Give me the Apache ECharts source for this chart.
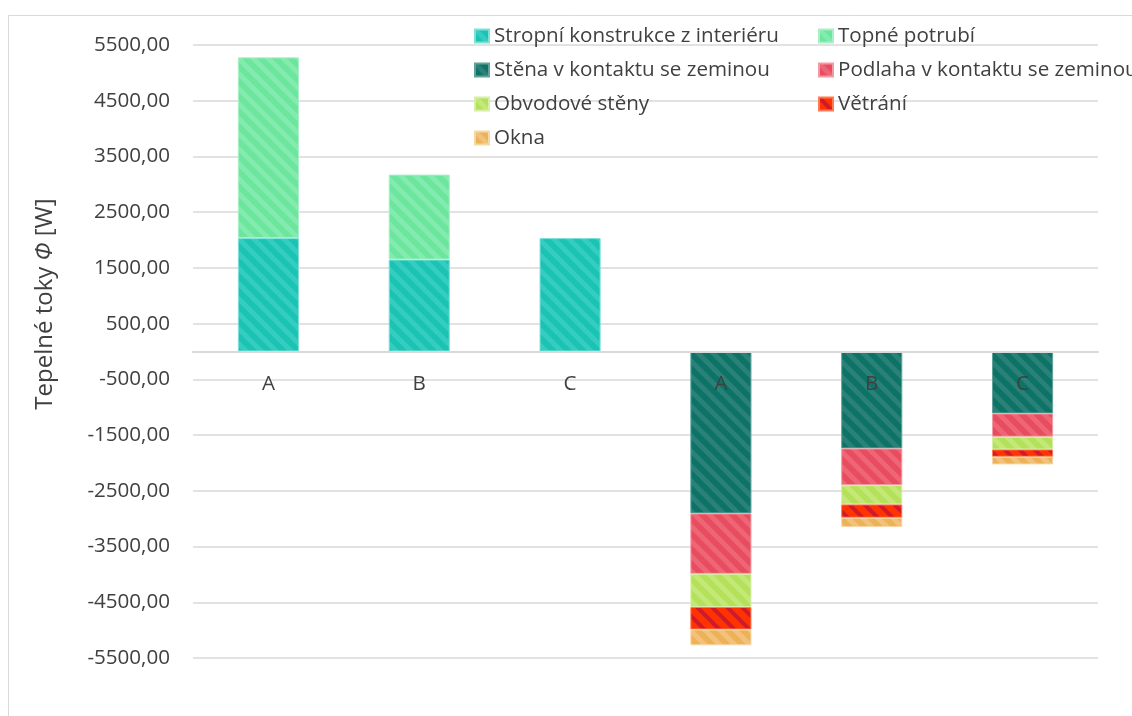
<!DOCTYPE html>
<html>
<head>
<meta charset="utf-8">
<script src="https://cdn.jsdelivr.net/npm/echarts@6/dist/echarts.min.js"></script>
<style>
  html, body { margin: 0; padding: 0; background: #ffffff; }
  #chart { width: 1132px; height: 716px; }
</style>
</head>
<body>
<div id="chart"></div>
<script>
// Heat flows [W] for three variants: gains (left group) and losses (right group)
const categories = ['A', 'B', 'C', 'A', 'B', 'C'];

const stropniKonstrukce = [2035, 1650, 2035, null, null, null];
const topnePotrubi      = [3243, 1524, null, null, null, null];
const stenaZemina       = [null, null, null, -2905, -1740, -1112];
const podlahaZemina     = [null, null, null, -1085, -658, -418];
const obvodoveSteny     = [null, null, null, -595, -346, -228];
const vetrani           = [null, null, null, -404, -239, -131];
const okna              = [null, null, null, -283, -168, -138];

const seriesNames = [
  'Stropní konstrukce z interiéru',
  'Topné potrubí',
  'Stěna v kontaktu se zeminou',
  'Podlaha v kontaktu se zeminou',
  'Obvodové stěny',
  'Větrání',
  'Okna'
];

const axisMin = -5500;
const axisMax = 5500;
const axisStep = 1000;

const FONT = "'Open Sans', 'DejaVu Sans', sans-serif";
const TEXT = '#404040';
const FS = 20.6;

// plot area box
const gridTop = 45;
const gridBottom = 58;
const plotHeight = 716 - gridTop - gridBottom;
// category axis sits on the zero level
const zeroOffset = -plotHeight * (0 - axisMin) / (axisMax - axisMin);

// Diagonal "\" hatch tile used as a repeating bar fill
function hatch(base, stripe, width) {
  const s = 15;
  const c = document.createElement('canvas');
  c.width = s; c.height = s;
  const g = c.getContext('2d');
  g.fillStyle = base;
  g.fillRect(0, 0, s, s);
  g.strokeStyle = stripe;
  g.lineWidth = width;
  for (const k of [-s, 0, s]) {
    g.beginPath();
    g.moveTo(k - 3, -3);
    g.lineTo(k + s + 3, s + 3);
    g.stroke();
  }
  return { image: c, repeat: 'repeat' };
}

const styles = [
  { fill: hatch('#1BC3B4', '#34CDC0', 5), border: '#7FE0D8' },
  { fill: hatch('#6CE59D', '#84EBB0', 5), border: '#A8F0C6' },
  { fill: hatch('#0D7366', '#2A8178', 5), border: '#5FA39A' },
  { fill: hatch('#E84C5F', '#EE6675', 5), border: '#F29AA4' },
  { fill: hatch('#B3E15A', '#C3E878', 5), border: '#D6EEA6' },
  { fill: hatch('#FF3300', '#CF1A2C', 4), border: '#FF7A55' },
  { fill: hatch('#EDB157', '#F2C27A', 5), border: '#F6D7A6' }
];

const values = [stropniKonstrukce, topnePotrubi, stenaZemina, podlahaZemina, obvodoveSteny, vetrani, okna];

const series = values.map((data, i) => ({
  name: seriesNames[i],
  type: 'bar',
  stack: 'toky',
  barCategoryGap: '59.5%',
  data: data,
  itemStyle: {
    color: styles[i].fill,
    borderColor: styles[i].border,
    borderWidth: 1
  }
}));

const legendText = { fontFamily: FONT, fontSize: FS, color: TEXT, lineHeight: 24 };

const chart = echarts.init(document.getElementById('chart'), null, { renderer: 'canvas' });

chart.setOption({
  animation: false,
  backgroundColor: '#ffffff',
  grid: { left: 193, right: 34, top: gridTop, bottom: gridBottom, containLabel: false },
  legend: [
    {
      orient: 'vertical',
      left: 469, top: 19,
      itemWidth: 14, itemHeight: 13, itemGap: 10,
      icon: 'rect',
      textStyle: legendText,
      data: [seriesNames[0], seriesNames[2], seriesNames[4], seriesNames[6]]
    },
    {
      orient: 'vertical',
      left: 813, top: 19,
      itemWidth: 14, itemHeight: 13, itemGap: 10,
      icon: 'rect',
      textStyle: legendText,
      data: [seriesNames[1], seriesNames[3], seriesNames[5]]
    }
  ],
  xAxis: {
    type: 'category',
    data: categories,
    z: 5,
    offset: zeroOffset,
    axisLine: { onZero: false, lineStyle: { color: '#d9d9d9', width: 2 } },
    axisTick: { show: false },
    axisLabel: { fontFamily: FONT, fontSize: FS, color: TEXT, margin: 22 },
    splitLine: { show: false }
  },
  yAxis: {
    type: 'value',
    min: axisMin,
    max: axisMax,
    interval: axisStep,
    axisLine: { show: false },
    axisTick: { show: false },
    axisLabel: {
      fontFamily: FONT, fontSize: FS, color: TEXT, margin: 23,
      formatter: v => v.toFixed(2).replace('.', ',')
    },
    splitLine: { lineStyle: { color: '#d9d9d9', width: 1.5 } }
  },
  graphic: [
    {
      type: 'rect',
      z: -10,
      silent: true,
      shape: { x: 8.5, y: 15.5, width: 1300, height: 900 },
      style: { fill: 'none', stroke: '#d9d9d9', lineWidth: 1 }
    },
    {
      type: 'text',
      x: 45, y: 304,
      rotation: Math.PI / 2,
      silent: true,
      style: {
        text: 'Tepelné toky {i|Φ} [W]',
        fontFamily: FONT,
        fontSize: 24,
        fill: TEXT,
        align: 'center',
        verticalAlign: 'middle',
        rich: { i: { fontStyle: 'italic', fontFamily: FONT, fontSize: 24, fill: TEXT } }
      }
    }
  ],
  series: series
});
</script>
</body>
</html>
